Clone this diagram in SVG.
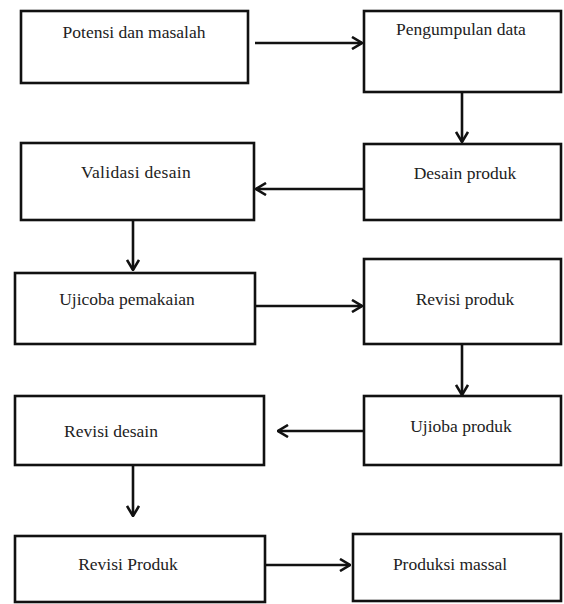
<svg xmlns="http://www.w3.org/2000/svg" width="564" height="604" viewBox="0 0 564 604">
<style>
.box{fill:#fff;stroke:#111;stroke-width:2.6}
.lbl{font-family:'Liberation Serif','DejaVu Serif',serif;font-size:17.5px;fill:#222;text-anchor:middle}
.edge{fill:none;stroke:#111;stroke-width:2.6;marker-end:url(#arr)}
</style>
<defs>
<marker id="arr" viewBox="0 0 12 14" refX="11" refY="7" markerWidth="12" markerHeight="14" markerUnits="userSpaceOnUse" orient="auto">
<path d="M1,1 L11,7 L1,13" fill="none" stroke="#111" stroke-width="2.6"/>
</marker>
</defs>
<rect width="564" height="604" fill="#fff"/>
<g id="connectors">
<line class="edge" x1="255" y1="43" x2="362" y2="43"/>
<line class="edge" x1="462" y1="92" x2="462" y2="142"/>
<line class="edge" x1="364" y1="189" x2="256" y2="189"/>
<line class="edge" x1="133" y1="220" x2="133" y2="270"/>
<line class="edge" x1="255" y1="306" x2="362" y2="306"/>
<line class="edge" x1="462" y1="344" x2="462" y2="395"/>
<line class="edge" x1="368" y1="431" x2="278" y2="431"/>
<line class="edge" x1="133" y1="465" x2="133" y2="516"/>
<line class="edge" x1="265" y1="565" x2="350" y2="565"/>
</g>
<g font-family="'Liberation Serif', 'DejaVu Serif', serif">
<g id="n1"><rect class="box" x="21" y="11" width="227" height="72"/><text class="lbl" x="134" y="38">Potensi dan masalah</text></g>
<g id="n2"><rect class="box" x="364" y="11" width="197" height="81"/><text class="lbl" x="461" y="35">Pengumpulan data</text></g>
<g id="n3"><rect class="box" x="21" y="143" width="233" height="77"/><text class="lbl" x="136" y="178" letter-spacing="0.3">Validasi desain</text></g>
<g id="n4"><rect class="box" x="364" y="144" width="197" height="76"/><text class="lbl" x="465" y="179">Desain produk</text></g>
<g id="n5"><rect class="box" x="15" y="273" width="240" height="71"/><text class="lbl" x="127" y="305">Ujicoba pemakaian</text></g>
<g id="n6"><rect class="box" x="364" y="259" width="197" height="85"/><text class="lbl" x="465" y="305">Revisi produk</text></g>
<g id="n7"><rect class="box" x="15" y="396" width="249" height="69"/><text class="lbl" x="111" y="437">Revisi desain</text></g>
<g id="n8"><rect class="box" x="364" y="396" width="197" height="69"/><text class="lbl" x="461" y="432">Ujioba produk</text></g>
<g id="n9"><rect class="box" x="15" y="536" width="250" height="66"/><text class="lbl" x="128" y="570">Revisi Produk</text></g>
<g id="n10"><rect class="box" x="353" y="534" width="208" height="67"/><text class="lbl" x="450" y="570">Produksi massal</text></g>
</g>
</svg>
